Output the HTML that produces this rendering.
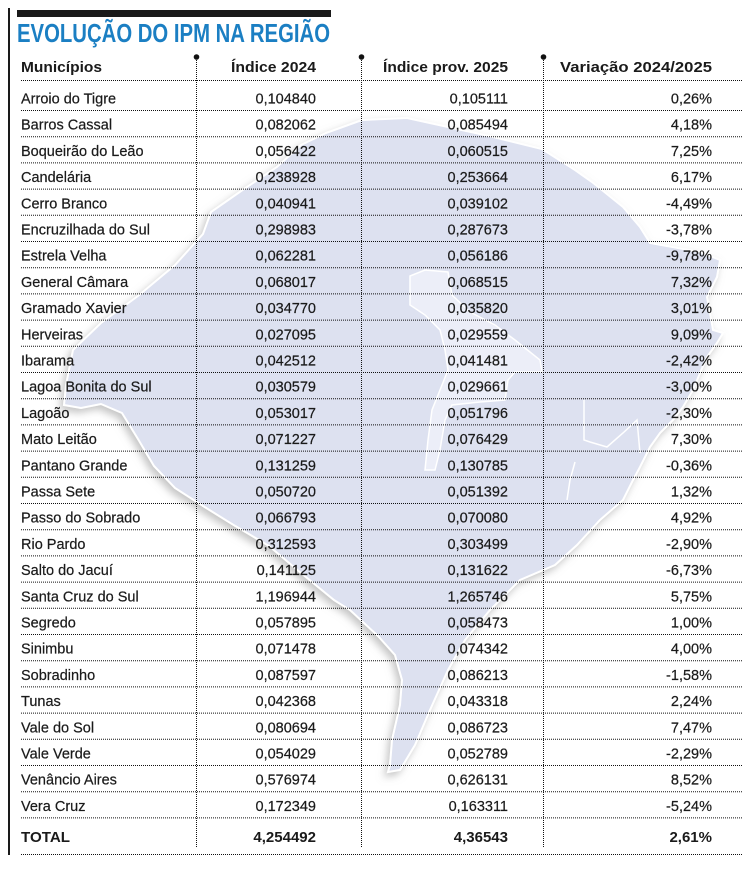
<!DOCTYPE html>
<html><head><meta charset="utf-8"><style>
html,body{margin:0;padding:0;background:#fff;}
svg{display:block;}
text{font-family:"Liberation Sans",sans-serif;fill:#1a1a1a;}
.n,.r{stroke:#1a1a1a;stroke-width:0.2px;}
.n{font-size:14.5px;}
.r{font-size:14.5px;text-anchor:end;}
.h{font-size:15px;font-weight:bold;}
.hr{font-size:15px;font-weight:bold;text-anchor:end;}
</style></head><body>
<svg width="755" height="869" viewBox="0 0 755 869" xmlns="http://www.w3.org/2000/svg">
<defs>
<filter id="sh" x="-20%" y="-20%" width="140%" height="140%">
<feDropShadow dx="-3" dy="4" stdDeviation="4" flood-color="#8a8a8a" flood-opacity="0.5"/>
</filter>
</defs>
<rect width="755" height="869" fill="#fff"/>
<!-- map -->
<polygon filter="url(#sh)" fill="#dde1f0" stroke="#fff" stroke-width="2" points="326,133 362,120 407,118 448,127 489,136 542,149 575,170 592,182 623,207 640,227 650,243 700,252 720,260 717,277 707,297 710,313 713,330 723,333 717,343 707,357 700,373 693,390 683,407 673,420 660,433 650,447 640,467 633,480 623,500 600,520 577,545 555,565 520,580 490,610 465,640 448,670 430,710 415,745 400,770 388,772 390,765 392,740 400,705 402,680 395,655 378,636 350,610 334,600 301,573 269,546 232,524 203,506 175,488 154,466 138,439 122,413 101,404 81,408 64,405 66,385 73,350 101,323 138,296 175,265 203,234 211,212 244,189 277,167 301,145"/>
<polygon fill="#eceef8" stroke="#fff" stroke-width="1.5" points="410,276 425,270 448,272 452,295 470,312 495,325 515,340 540,360 542,372 515,372 508,380 505,400 480,402 452,405 445,420 440,450 435,470 425,470 428,440 432,410 440,390 448,370 445,350 440,330 425,315 410,305"/>
<polyline fill="none" stroke="#fff" stroke-width="1.5" points="584,400 584,440 590,442 607,447 623,433 637,420 640,453"/>
<polyline fill="none" stroke="#fff" stroke-width="1.5" points="575,462 570,480 567,500"/>

<!-- frame -->
<rect x="8" y="8" width="2" height="847" fill="#1a1a1a"/>
<rect x="17" y="10" width="314" height="7" fill="#1a1a1a"/>
<text x="17" y="42" font-size="26" font-weight="bold" style="fill:#1b7fc3" textLength="313" lengthAdjust="spacingAndGlyphs">EVOLUÇÃO DO IPM NA REGIÃO</text>

<!-- header -->
<text class="h" x="21" y="72" textLength="81" lengthAdjust="spacingAndGlyphs">Municípios</text>
<text class="h" x="231" y="72" textLength="85" lengthAdjust="spacingAndGlyphs">Índice 2024</text>
<text class="h" x="383" y="72" textLength="125" lengthAdjust="spacingAndGlyphs">Índice prov. 2025</text>
<text class="h" x="560" y="72" textLength="152" lengthAdjust="spacingAndGlyphs">Variação 2024/2025</text>
<circle cx="196.5" cy="57" r="2.8" fill="#111"/>
<circle cx="361.5" cy="57" r="2.8" fill="#111"/>
<circle cx="543.5" cy="57" r="2.8" fill="#111"/>

<!-- grid lines -->
<g stroke="#111" stroke-width="1" stroke-dasharray="1,1" fill="none">
<line x1="196.5" y1="58" x2="196.5" y2="848"/>
<line x1="361.5" y1="58" x2="361.5" y2="848"/>
<line x1="543.5" y1="58" x2="543.5" y2="848"/>
<line x1="21" y1="80.5" x2="743" y2="80.5"/>
<line x1="21" y1="110.5" x2="743" y2="110.5"/>
<line x1="21" y1="136.7" x2="743" y2="136.7"/>
<line x1="21" y1="162.9" x2="743" y2="162.9"/>
<line x1="21" y1="189.1" x2="743" y2="189.1"/>
<line x1="21" y1="215.3" x2="743" y2="215.3"/>
<line x1="21" y1="241.5" x2="743" y2="241.5"/>
<line x1="21" y1="267.7" x2="743" y2="267.7"/>
<line x1="21" y1="293.9" x2="743" y2="293.9"/>
<line x1="21" y1="320.1" x2="743" y2="320.1"/>
<line x1="21" y1="346.3" x2="743" y2="346.3"/>
<line x1="21" y1="372.5" x2="743" y2="372.5"/>
<line x1="21" y1="398.7" x2="743" y2="398.7"/>
<line x1="21" y1="424.9" x2="743" y2="424.9"/>
<line x1="21" y1="451.1" x2="743" y2="451.1"/>
<line x1="21" y1="477.3" x2="743" y2="477.3"/>
<line x1="21" y1="503.5" x2="743" y2="503.5"/>
<line x1="21" y1="529.7" x2="743" y2="529.7"/>
<line x1="21" y1="555.9" x2="743" y2="555.9"/>
<line x1="21" y1="582.1" x2="743" y2="582.1"/>
<line x1="21" y1="608.3" x2="743" y2="608.3"/>
<line x1="21" y1="634.5" x2="743" y2="634.5"/>
<line x1="21" y1="660.7" x2="743" y2="660.7"/>
<line x1="21" y1="686.9" x2="743" y2="686.9"/>
<line x1="21" y1="713.1" x2="743" y2="713.1"/>
<line x1="21" y1="739.3" x2="743" y2="739.3"/>
<line x1="21" y1="765.5" x2="743" y2="765.5"/>
<line x1="21" y1="791.7" x2="743" y2="791.7"/>
<line x1="21" y1="817.9" x2="743" y2="817.9"/>
<line x1="21" y1="854.5" x2="743" y2="854.5"/>
</g>

<!-- rows -->
<g>
<text class="n" x="21" y="103.5">Arroio do Tigre</text><text class="r" x="316" y="103.5">0,104840</text><text class="r" x="508" y="103.5">0,105111</text><text class="r" x="712" y="103.5">0,26%</text>
<text class="n" x="21" y="129.7">Barros Cassal</text><text class="r" x="316" y="129.7">0,082062</text><text class="r" x="508" y="129.7">0,085494</text><text class="r" x="712" y="129.7">4,18%</text>
<text class="n" x="21" y="155.9">Boqueirão do Leão</text><text class="r" x="316" y="155.9">0,056422</text><text class="r" x="508" y="155.9">0,060515</text><text class="r" x="712" y="155.9">7,25%</text>
<text class="n" x="21" y="182.1">Candelária</text><text class="r" x="316" y="182.1">0,238928</text><text class="r" x="508" y="182.1">0,253664</text><text class="r" x="712" y="182.1">6,17%</text>
<text class="n" x="21" y="208.3">Cerro Branco</text><text class="r" x="316" y="208.3">0,040941</text><text class="r" x="508" y="208.3">0,039102</text><text class="r" x="712" y="208.3">-4,49%</text>
<text class="n" x="21" y="234.5">Encruzilhada do Sul</text><text class="r" x="316" y="234.5">0,298983</text><text class="r" x="508" y="234.5">0,287673</text><text class="r" x="712" y="234.5">-3,78%</text>
<text class="n" x="21" y="260.7">Estrela Velha</text><text class="r" x="316" y="260.7">0,062281</text><text class="r" x="508" y="260.7">0,056186</text><text class="r" x="712" y="260.7">-9,78%</text>
<text class="n" x="21" y="286.9">General Câmara</text><text class="r" x="316" y="286.9">0,068017</text><text class="r" x="508" y="286.9">0,068515</text><text class="r" x="712" y="286.9">7,32%</text>
<text class="n" x="21" y="313.1">Gramado Xavier</text><text class="r" x="316" y="313.1">0,034770</text><text class="r" x="508" y="313.1">0,035820</text><text class="r" x="712" y="313.1">3,01%</text>
<text class="n" x="21" y="339.3">Herveiras</text><text class="r" x="316" y="339.3">0,027095</text><text class="r" x="508" y="339.3">0,029559</text><text class="r" x="712" y="339.3">9,09%</text>
<text class="n" x="21" y="365.5">Ibarama</text><text class="r" x="316" y="365.5">0,042512</text><text class="r" x="508" y="365.5">0,041481</text><text class="r" x="712" y="365.5">-2,42%</text>
<text class="n" x="21" y="391.7">Lagoa Bonita do Sul</text><text class="r" x="316" y="391.7">0,030579</text><text class="r" x="508" y="391.7">0,029661</text><text class="r" x="712" y="391.7">-3,00%</text>
<text class="n" x="21" y="417.9">Lagoão</text><text class="r" x="316" y="417.9">0,053017</text><text class="r" x="508" y="417.9">0,051796</text><text class="r" x="712" y="417.9">-2,30%</text>
<text class="n" x="21" y="444.1">Mato Leitão</text><text class="r" x="316" y="444.1">0,071227</text><text class="r" x="508" y="444.1">0,076429</text><text class="r" x="712" y="444.1">7,30%</text>
<text class="n" x="21" y="470.3">Pantano Grande</text><text class="r" x="316" y="470.3">0,131259</text><text class="r" x="508" y="470.3">0,130785</text><text class="r" x="712" y="470.3">-0,36%</text>
<text class="n" x="21" y="496.5">Passa Sete</text><text class="r" x="316" y="496.5">0,050720</text><text class="r" x="508" y="496.5">0,051392</text><text class="r" x="712" y="496.5">1,32%</text>
<text class="n" x="21" y="522.7">Passo do Sobrado</text><text class="r" x="316" y="522.7">0,066793</text><text class="r" x="508" y="522.7">0,070080</text><text class="r" x="712" y="522.7">4,92%</text>
<text class="n" x="21" y="548.9">Rio Pardo</text><text class="r" x="316" y="548.9">0,312593</text><text class="r" x="508" y="548.9">0,303499</text><text class="r" x="712" y="548.9">-2,90%</text>
<text class="n" x="21" y="575.1">Salto do Jacuí</text><text class="r" x="316" y="575.1">0,141125</text><text class="r" x="508" y="575.1">0,131622</text><text class="r" x="712" y="575.1">-6,73%</text>
<text class="n" x="21" y="601.3">Santa Cruz do Sul</text><text class="r" x="316" y="601.3">1,196944</text><text class="r" x="508" y="601.3">1,265746</text><text class="r" x="712" y="601.3">5,75%</text>
<text class="n" x="21" y="627.5">Segredo</text><text class="r" x="316" y="627.5">0,057895</text><text class="r" x="508" y="627.5">0,058473</text><text class="r" x="712" y="627.5">1,00%</text>
<text class="n" x="21" y="653.7">Sinimbu</text><text class="r" x="316" y="653.7">0,071478</text><text class="r" x="508" y="653.7">0,074342</text><text class="r" x="712" y="653.7">4,00%</text>
<text class="n" x="21" y="679.9">Sobradinho</text><text class="r" x="316" y="679.9">0,087597</text><text class="r" x="508" y="679.9">0,086213</text><text class="r" x="712" y="679.9">-1,58%</text>
<text class="n" x="21" y="706.1">Tunas</text><text class="r" x="316" y="706.1">0,042368</text><text class="r" x="508" y="706.1">0,043318</text><text class="r" x="712" y="706.1">2,24%</text>
<text class="n" x="21" y="732.3">Vale do Sol</text><text class="r" x="316" y="732.3">0,080694</text><text class="r" x="508" y="732.3">0,086723</text><text class="r" x="712" y="732.3">7,47%</text>
<text class="n" x="21" y="758.5">Vale Verde</text><text class="r" x="316" y="758.5">0,054029</text><text class="r" x="508" y="758.5">0,052789</text><text class="r" x="712" y="758.5">-2,29%</text>
<text class="n" x="21" y="784.7">Venâncio Aires</text><text class="r" x="316" y="784.7">0,576974</text><text class="r" x="508" y="784.7">0,626131</text><text class="r" x="712" y="784.7">8,52%</text>
<text class="n" x="21" y="810.9">Vera Cruz</text><text class="r" x="316" y="810.9">0,172349</text><text class="r" x="508" y="810.9">0,163311</text><text class="r" x="712" y="810.9">-5,24%</text>
</g>
<!-- total -->
<text class="h" x="21" y="842" textLength="49" lengthAdjust="spacingAndGlyphs">TOTAL</text>
<text class="hr" x="316" y="842">4,254492</text>
<text class="hr" x="508" y="842">4,36543</text>
<text class="hr" x="712" y="842">2,61%</text>
</svg>
</body></html>
